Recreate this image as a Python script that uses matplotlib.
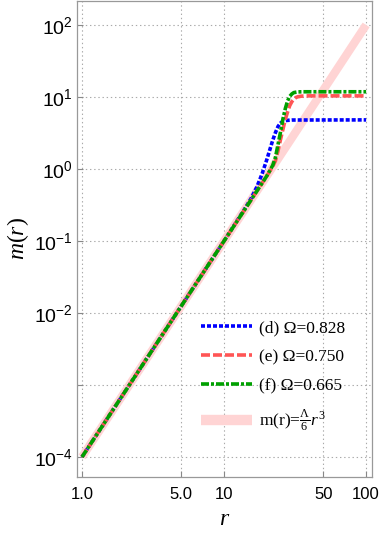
import numpy as np
import matplotlib
matplotlib.use("Agg")
from matplotlib import pyplot as plt
from matplotlib.lines import Line2D

# Mathematica-like fonts
plt.rcParams['font.family'] = ['Liberation Serif', 'DejaVu Serif']
plt.rcParams['mathtext.fontset'] = 'custom'
plt.rcParams['mathtext.rm'] = 'Liberation Serif'
plt.rcParams['mathtext.it'] = 'Liberation Serif:italic'
plt.rcParams['mathtext.sf'] = 'Liberation Sans'
plt.rcParams['lines.scale_dashes'] = False

# Data
r_vacuum = [1, 100]
m_vacuum = [1e-4, 100]

r_d = [1, 10, 14, 15.5, 17, 18.5, 20, 21, 22, 23, 24, 25, 26, 27.5, 30, 100]
m_d = [1e-4, 0.1, 0.28, 0.39, 0.56, 0.85, 1.35, 1.85, 2.5, 3.2, 3.9, 4.35, 4.6, 4.72, 4.78, 4.8]

r_e = [1, 10, 20, 22, 23, 24, 25, 26, 27, 28, 29, 30, 31, 32, 33, 35, 38, 100]
m_e = [1e-4, 0.1, 0.8, 1.08, 1.3, 1.8, 2.6, 3.6, 4.9, 6.2, 7.6, 8.6, 9.3, 9.8, 10.05, 10.25, 10.35, 10.35]

r_f = [1, 10, 20, 21, 22, 23, 24, 25, 26, 27, 28, 29, 30, 31, 33, 36, 100]
m_f = [1e-4, 0.1, 0.8, 0.95, 1.12, 1.45, 2.2, 3.3, 5.0, 6.9, 8.8, 10.2, 11.0, 11.5, 11.75, 11.8, 11.8]

labels = ['(d) Ω=0.828', '(e) Ω=0.750', '(f) Ω=0.665', r'm(r)=$\frac{\Lambda}{6}r^3$']

x_ticks = [1, 5, 10, 50, 100]
x_ticklabels = ['1.0', '5.0', '10', '50', '100']
y_ticks = [1e-4, 1e-3, 1e-2, 1e-1, 1e0, 1e1, 1e2]
y_ticklabels = [r'$\mathsf{10^{-4}}$', '', r'$\mathsf{10^{-2}}$', r'$\mathsf{10^{-1}}$',
                r'$\mathsf{10^{0}}$', r'$\mathsf{10^{1}}$', r'$\mathsf{10^{2}}$']

W, H = 382, 541
fig = plt.figure(figsize=(W / 100, H / 100), dpi=100)
ax = fig.add_axes([77 / W, 1 - 477 / H, (372 - 77) / W, (477 - 1) / H])

px = 0.72  # points per pixel
pink = '#ffd4d4'
lp, = ax.plot(r_vacuum, m_vacuum, color=pink, lw=6.0, solid_capstyle='butt', zorder=2)
ld, = ax.plot(r_d, m_d, color='#0000ff', lw=2.6, dashes=(4 * px, 2 * px), zorder=3)
le, = ax.plot(r_e, m_e, color='#ff5555', lw=2.6, dashes=(9 * px, 3 * px), zorder=4)
lf, = ax.plot(r_f, m_f, color='#00a000', lw=2.6, dashes=(8 * px, 2 * px, 3 * px, 2 * px), zorder=5)

ax.set_xscale('log')
ax.set_yscale('log')
ax.set_xlim(0.922, 110)
ax.set_ylim(5.27e-5, 215)

ax.set_xticks(x_ticks)
ax.set_xticklabels(x_ticklabels, family='Liberation Sans', fontsize=12)
ax.set_yticks(y_ticks)
ax.set_yticklabels(y_ticklabels, fontsize=14)
ax.minorticks_off()
ax.tick_params(axis='both', direction='in', length=4, width=0.8, color='#888888')
ax.tick_params(axis='x', pad=7)
ax.tick_params(axis='y', pad=3)

ax.grid(True, color='#aaaaaa', lw=0.8, linestyle=(0, (1, 2)))
for sp in ax.spines.values():
    sp.set_color('#999999')
    sp.set_linewidth(0.9)

ax.set_xlabel(r'$r$', fontsize=17, labelpad=5)
ax.set_ylabel(r'$m(r)$', fontsize=17, labelpad=2)

# thicker pink proxy for the legend, as in the original
lp_leg = Line2D([], [], color=pink, lw=7.5, solid_capstyle='butt')
leg = ax.legend([ld, le, lf, lp_leg], labels, loc='upper left', bbox_to_anchor=(0.42, 0.33),
                frameon=False, fontsize=12.5, handlelength=2.95, handletextpad=0.4,
                labelspacing=0.75, borderpad=0, borderaxespad=0)

fig.savefig('out.png', dpi=100)
